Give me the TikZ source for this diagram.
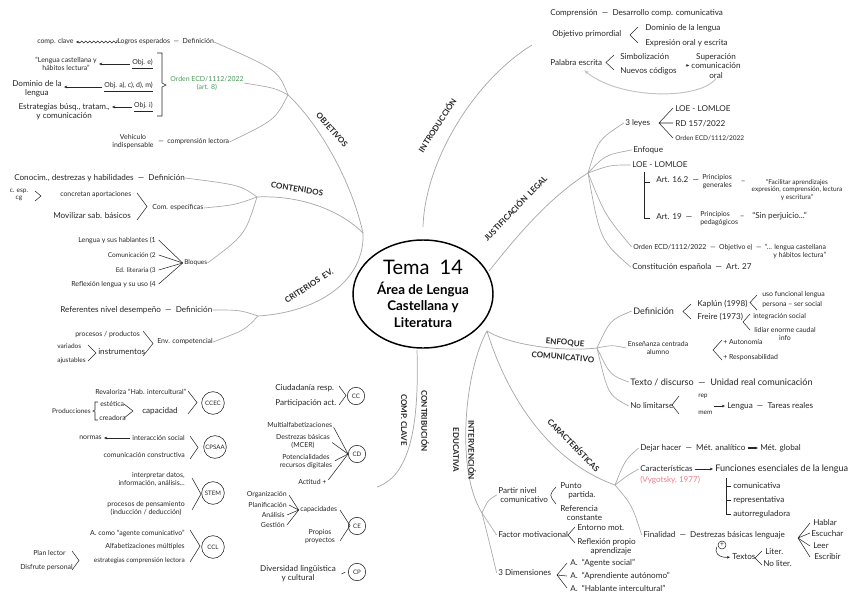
\documentclass[tikz,border=0pt]{standalone}
\usepackage{fontspec}
\setmainfont{Lato}
\usepackage{tikz}
\usetikzlibrary{positioning,arrows.meta,calc,decorations.pathmorphing,shapes.geometric}
\definecolor{ink}{HTML}{262626}
\definecolor{lin}{HTML}{A8A8A8}
\definecolor{grn}{HTML}{4C9A58}
\definecolor{pnk}{HTML}{F07C8A}
\newcommand{\chevR}[4]{\draw[chev] (#1,#2) -- (#1+#4,{(#2+#3)/2}) -- (#1,#3);}
\newcommand{\chevL}[4]{\draw[chev] (#1+#4,#2) -- (#1,{(#2+#3)/2}) -- (#1+#4,#3);}
\tikzset{
  txt/.style={font=\fontsize{6.1}{6.9}\selectfont,text=ink,inner sep=0pt,anchor=west},
  sm/.style={txt,font=\fontsize{5.2}{6}\selectfont},
  wee/.style={txt,font=\fontsize{4.9}{5.6}\selectfont},
  lg/.style={txt,font=\fontsize{6.8}{7.6}\selectfont},
  lbl/.style={font=\fontsize{6}{6.6}\selectfont\bfseries,text=ink,inner sep=0pt,align=center},
  branch/.style={lin,line width=0.55pt},
  twig/.style={lin,line width=0.5pt},
  chev/.style={ink,line width=0.4pt},
  arr/.style={ink,line width=0.4pt,-{Stealth[length=2.4pt,width=2pt]},shorten <=1.5pt,shorten >=1.5pt},
  comp/.style={circle,draw=ink,line width=0.45pt,inner sep=0pt,minimum size=17pt,font=\fontsize{4.6}{5}\selectfont,text=ink},
  compS/.style={comp,minimum size=13pt},
}

\begin{document}
\begin{tikzpicture}[x=0.75pt,y=-0.75pt]
  \useasboundingbox (0,0) rectangle (848,599);
  % centre
  \node[draw=black,line width=1.1pt,ellipse,minimum width=105pt,minimum height=81pt,inner sep=0pt,align=center,
        font=\fontsize{10}{12.6}\selectfont\bfseries,text=black] (tema) at (423,294)
        {{\fontsize{15}{15}\selectfont\mdseries Tema\ \ 14}\\[2pt]Área de Lengua\\Castellana y\\Literatura};
  % hubs
  \coordinate (kL) at (363,233);
  \coordinate (kT) at (423,227);
  \coordinate (kR) at (489,271);
  \coordinate (kB) at (487,331);
  \coordinate (kC) at (417,350);
  \coordinate (jobj) at (288,95);
  \coordinate (jcon) at (257,197);
  \coordinate (jcri) at (258,316);
  \coordinate (kI) at (532,45);
  \coordinate (jjus) at (588,173);
  \coordinate (jenf) at (597,348);
  \coordinate (jcar) at (615,485);
  \coordinate (jint) at (482,513);
  \coordinate (kCe) at (377,487);
  \draw[branch] (kL) .. controls (350,175) and (315,120) .. (jobj);
  \draw[branch] (kL) .. controls (340,210) and (300,195) .. (jcon);
  \draw[branch] (kL) .. controls (365,280) and (320,312) .. (jcri);
  \draw[branch] (kT) .. controls (425,160) and (475,80) .. (kI);
  \draw[branch] (kR) .. controls (510,245) and (545,200) .. (jjus);
  \draw[branch] (kB) .. controls (510,345) and (560,352) .. (jenf);
  \draw[branch] (kB) .. controls (505,390) and (545,460) .. (jcar);
  \draw[branch] (kB) .. controls (465,370) and (455,470) .. (jint);
  \draw[branch] (kC) .. controls (419,420) and (412,475) .. (kCe);
  % branch labels
  \node[lbl,rotate=-49] (lobj) at (332,130) {OBJETIVOS};
  \node[lbl,rotate=-9] (lcon) at (297,189) {CONTENIDOS};
  \node[lbl,rotate=33] (lcri) at (309,286) {CRITERIOS\ \ EV.};
  \node[lbl,rotate=57] (lint) at (437,125) {INTRODUCCIÓN};
  \node[lbl,rotate=46] (ljus) at (515,208) {JUSTIFICACIÓN\ \ LEGAL};
  \node[lbl,rotate=-5] (lenf) at (565,343) {ENFOQUE};
  \node[lbl,rotate=-5] (lenf2) at (563,357) {COMUNICATIVO};
  \node[lbl,rotate=-46] (lcar) at (574,445) {CARACTERÍSTICAS};
  \node[lbl,rotate=-90] (lieu) at (472,450) {INTERVENCIÓN};
  \node[lbl,rotate=-90] (lieu2) at (456,450) {EDUCATIVA};
  \node[lbl,rotate=-90] (lccl) at (425,421) {CONTRIBUCIÓN};
  \node[lbl,rotate=-90] (lccl2) at (404,420) {COMP. CLAVE};

  % objetivos
  \node[sm] (ocl) at (37,42) {comp. clave};
  \node[sm] (olg) at (117,42) {Logros esperados\ \ —\ \ Definición};
  \draw[ink,line width=0.4pt,decorate,decoration={snake,amplitude=0.7pt,segment length=3pt,post length=3pt},
        -{Stealth[length=2.4pt]},shorten >=1.5pt,shorten <=1.5pt] (olg.west) -- (ocl.east);
  \node[sm,anchor=east] (oe) at (153,64) {\underline{Obj. e)}};
  \node[sm,anchor=east,align=center] (olc) at (97,64) {“Lengua castellana y\\hábitos lectura”};
  \draw[arr] (oe.west) -- (olc.east);
  \node[sm,anchor=east] (oa) at (153,87) {\underline{Obj. a), c), d), m)}};
  \node[txt,anchor=east,align=center] (odm) at (62,89) {Dominio de la\\lengua};
  \draw[arr] (oa.west) -- (oa.west -| odm.east);
  \node[sm,anchor=east] (oi) at (153,107) {\underline{Obj. i)}};
  \node[txt,anchor=east,align=center] (oes) at (110,112) {Estrategias búsq., tratam.,\\y comunicación};
  \draw[arr] (oi.west) -- (oi.west -| oes.east);
  \draw[chev] (157,53) -- (162,53) -- (162,83) -- (166,85) -- (162,87) -- (162,116) -- (157,116);
  \node[sm,anchor=center,align=center,text=grn] (ord) at (207,83) {Orden ECD/1112/2022\\(art. 8)};
  \node[sm,anchor=center,align=center] (ove) at (133,142) {Vehículo\\indispensable};
  \node[sm] (ocp) at (158,142) {—\ \ comprensión lectora};
  \draw[twig] (jobj) .. controls (278,70) .. (olg.east);
  \draw[twig] (jobj) .. controls (275,88) .. (ord.east);
  \draw[twig] (jobj) .. controls (275,120) .. (ocp.east);

  % contenidos
  \node[txt] (cdf) at (14,178) {Conocim., destrezas y habilidades\ \ —\ \ Definición};
  \node[wee,anchor=center,align=center] (cesp) at (19,195) {c. esp.\\cg};
  \chevR{35}{191}{201}{6}
  \node[sm] (cap) at (60,195) {concretan aportaciones};
  \node[txt] (cmov) at (53,216) {Movilizar sab. básicos};
  \chevR{137}{193}{220}{10}
  \node[sm] (cce) at (152,208) {Com. específicas};
  \node[sm,anchor=east] (b1) at (156,240) {Lengua y sus hablantes (1};
  \node[wee,anchor=east] (b2) at (156,255) {Comunicación (2};
  \node[wee,anchor=east] (b3) at (156,270) {Ed. literaria (3};
  \node[sm,anchor=east] (b4) at (156,284) {Reflexión lengua y su uso (4};
  \node[wee] (cbl) at (184,263) {Bloques};
  \foreach \blk in {b1,b2,b3,b4} \draw[chev] ([xshift=2pt]\blk.east) -- ([xshift=-1pt]cbl.west);
  \draw[twig] (jcon) .. controls (240,185) .. (cdf.east);
  \draw[twig] (jcon) .. controls (235,205) .. (cce.east);
  \draw[twig] (jcon) .. controls (245,235) .. (cbl.east);

  % criterios
  \node[txt] (rdf) at (60,310) {Referentes nivel desempeño\ \ —\ \ Definición};
  \node[sm,anchor=east] (rpp) at (140,335) {procesos / productos};
  \node[wee] (rva) at (57,346) {variados};
  \node[wee] (raj) at (57,361) {ajustables};
  \chevR{88}{345}{361}{8}
  \node[txt] (rin) at (98,352) {instrumentos};
  \chevR{143}{331}{356}{10}
  \node[sm] (renv) at (157,342) {Env. competencial};
  \draw[twig] (jcri) .. controls (240,310) .. (rdf.east);
  \draw[twig] (jcri) .. controls (245,330) .. (renv.east);

  % competencias clave (izquierda)
  \node[sm] (crev) at (95,392) {Revaloriza “Hab. intercultural”};
  \node[wee,anchor=east] (cprod) at (91,411) {Producciones};
  \draw[chev] (98,402) -- (95,402) -- (95,410) -- (93,411) -- (95,412) -- (95,420) -- (98,420);
  \node[sm] (cest) at (100,404) {estética};
  \node[sm] (ccre) at (99,418) {creadora};
  \chevR{124}{404}{418}{9}
  \node[txt] (ccap) at (142,411) {capacidad};
  \chevR{188}{391}{414}{9}
  \node[comp] (ccec) at (213,403) {CCEC};
  \node[sm,anchor=east] (cint) at (185,438) {interacción social};
  \node[sm,anchor=east] (cnor) at (102,438) {normas};
  \draw[arr] (cint.west) -- (cnor.east);
  \node[sm,anchor=east] (ccon) at (185,455) {comunicación constructiva};
  \chevR{190}{436}{459}{8}
  \node[comp] (cpsaa) at (215,447) {CPSAA};
  \node[sm,anchor=east,align=right] (sint) at (185,479) {interpretar datos,\\información, análisis...};
  \node[sm,anchor=east,align=center] (spro) at (185,508) {procesos de pensamiento\\(inducción / deducción)};
  \chevR{192}{478}{510}{9}
  \node[comp] (stem) at (213,493) {STEM};
  \node[sm,anchor=east] (lag) at (185,533) {A. como “agente comunicativo”};
  \node[sm,anchor=east] (lalf) at (185,547) {Alfabetizaciones múltiples};
  \node[wee,anchor=east] (lest) at (185,561) {estrategias comprensión lectora};
  \node[sm] (lpl) at (33,553) {Plan lector};
  \node[sm] (ldis) at (20,568) {Disfrute personal};
  \chevR{72}{551}{570}{7}
  \chevR{190}{530}{562}{10}
  \node[comp] (ccl) at (213,547) {CCL};

  % contribucion comp. clave
  \node[txt] (cc1) at (275,388) {Ciudadanía resp.};
  \node[txt] (cc2) at (275,403) {Participación act.};
  \chevR{339}{386}{405}{7}
  \node[compS] (ccc) at (356,396) {CC};
  \node[sm] (cd1) at (267,425) {Multialfabetizaciones};
  \node[sm,anchor=center,align=center] (cd2) at (303,441) {Destrezas básicas\\(MCER)};
  \node[sm,anchor=center,align=center] (cd3) at (306,462) {Potencialidades\\recursos digitales};
  \node[sm] (cd4) at (298,482) {Actitud +};
  \node[compS] (ccd) at (357,454) {CD};
  \foreach \cdx in {cd1,cd2,cd3,cd4} \draw[chev,shorten <=2pt] (\cdx.east) -- (ccd.west);
  \node[sm,anchor=east] (ce1) at (287,495) {Organización};
  \node[sm,anchor=east] (ce2) at (287,505) {Planificación};
  \node[sm,anchor=east] (ce3) at (285,515) {Análisis};
  \node[sm,anchor=east] (ce4) at (285,525) {Gestión};
  \node[sm] (ccp2) at (300,510) {capacidades};
  \foreach \cex in {ce1,ce2,ce3,ce4} \draw[chev] ([xshift=1.5pt]\cex.east) -- ([xshift=-1pt]ccp2.west);
  \node[sm,anchor=center,align=center] (cpp) at (320,537) {Propios\\proyectos};
  \chevR{340}{510}{541}{10}
  \node[compS] (cce2) at (357,526) {CE};
  \node[txt,anchor=center,align=center] (cpd) at (298,574) {Diversidad lingüística\\y cultural};
  \node[compS] (ccp) at (357,572) {CP};
  \draw[chev] ([xshift=4pt]cpd.east) -- ([xshift=-2pt]ccp.west);

  % intervencion educativa
  \node[txt,align=left] (ipn) at (498,495) {Partir nivel\\\ comunicativo};
  \draw[chev] (556,487) .. controls (549,495) .. (556,504);
  \node[txt,align=left] (ipp) at (560,491) {Punto\\\hspace{6pt}partida.};
  \node[txt,align=left] (irc) at (560,513) {Referencia\\\hspace{5pt}constante};
  \node[txt] (ifm) at (498,535) {Factor motivacional};
  \chevL{568}{527}{543}{7}
  \node[txt] (iem) at (577,528) {Entorno mot.};
  \node[txt,align=left] (irp) at (577,547) {Reflexión propio\\\hspace{10pt}aprendizaje};
  \node[txt] (idim) at (498,573) {3 Dimensiones};
  \draw[chev] (567,563) -- (557,575) -- (567,588) (557,575) -- (567,576);
  \node[txt] (ia1) at (570,563) {A.\ \ “Agente social”};
  \node[txt] (ia2) at (570,576) {A.\ \ “Aprendiente autónomo”};
  \node[txt] (ia3) at (570,588) {A.\ \ “Hablante intercultural”};
  \draw[twig] (jint) .. controls (488,500) .. ([xshift=-1pt]ipn.west);
  \draw[twig] (jint) .. controls (488,522) .. ([xshift=-1pt]ifm.west);
  \draw[twig] (jint) .. controls (490,545) .. ([xshift=-1pt]idim.west);

  % caracteristicas
  \node[txt] (cdej) at (640,448) {Dejar hacer\ \ —\ \ Mét. analítico};
  \node[txt] (cglo) at (760,448) {Mét. global};
  \draw[arr,line width=0.8pt] (cdej.east) -- (cglo.west);
  \node[txt] (ccar) at (640,469) {Características};
  \node[lg] (cfun) at (715,469) {Funciones esenciales de la lengua};
  \draw[arr] (ccar.east) -- (cfun.west);
  \node[txt,text=pnk] (cvyg) at (640,480) {(Vygotsky, 1977)};
  \draw[chev] (726,478) -- (726,514) -- (731,514) (726,486) -- (731,486) (726,500) -- (731,500);
  \node[txt] (cf1) at (733,486) {comunicativa};
  \node[txt] (cf2) at (733,500) {representativa};
  \node[txt] (cf3) at (733,514) {autorreguladora};
  \node[txt] (cfin) at (643,535) {Finalidad\ \ —\ \ Destrezas básicas lenguaje};
  \draw[chev] (810,523) -- (798,538) -- (810,557) (798,538) -- (810,533) (798,538) -- (810,546);
  \node[txt] (ch1) at (813,523) {Hablar};
  \node[txt] (ch2) at (811,534) {Escuchar};
  \node[txt] (ch3) at (813,546) {Leer};
  \node[txt] (ch4) at (814,557) {Escribir};
  \node[circle,draw=ink,line width=0.4pt,inner sep=0pt,minimum size=6pt,font=\fontsize{5}{5}\selectfont,text=ink] (cplus) at (722,545) {+};
  \node[txt] (ctex) at (732,557) {Textos};
  \draw[arr] (cplus.west) .. controls (714,552) and (718,558) .. (ctex.west);
  \chevL{755}{551}{565}{7}
  \node[txt] (cli) at (765,552) {Liter.};
  \node[txt] (cnl) at (763,564) {No liter.};
  \draw[twig] (jcar) .. controls (625,460) .. ([xshift=-1pt]cdej.west);
  \draw[twig] (jcar) .. controls (628,475) .. ([xshift=-1pt]ccar.west);
  \draw[twig] (jcar) .. controls (632,505) .. ([xshift=-1pt]cfin.west);

  % enfoque comunicativo
  \node[lg] (edf) at (633,311) {Definición};
  \chevL{683}{304}{319}{8}
  \node[txt] (ekap) at (697,304) {Kaplún (1998)};
  \chevL{750}{295}{310}{7}
  \node[sm] (ek1) at (762,295) {uso funcional lengua};
  \node[sm] (ek2) at (762,305) {persona – ser social};
  \node[txt] (efre) at (697,317) {Freire (1973)};
  \chevL{743}{314}{330}{7}
  \node[sm] (ef1) at (753,317) {integración social};
  \node[sm,anchor=center,align=center] (ef2) at (785,334) {lidiar enorme caudal\\info};
  \node[sm,anchor=center,align=center] (eens) at (658,348) {Enseñanza centrada\\alumno};
  \chevL{713}{340}{360}{9}
  \node[sm] (ea1) at (723,342) {+ Autonomía};
  \node[sm] (ea2) at (723,358) {+ Responsabilidad};
  \node[lg] (etex) at (630,382) {Texto / discurso\ \ —\ \ Unidad real comunicación};
  \node[txt] (enol) at (630,406) {No limitarse};
  \chevL{672}{396}{414}{7}
  \node[wee] (erep) at (698,396) {rep};
  \node[wee] (emem) at (698,413) {mem};
  \coordinate (erm) at (712,406);
  \node[txt] (eten) at (727,406) {Lengua\ \ —\ \ Tareas reales};
  \draw[arr] (erm) -- (eten.west);
  \draw[twig] (jenf) .. controls (610,320) .. ([xshift=-1pt]edf.west);
  \draw[twig] (jenf) .. controls (612,345) .. ([xshift=-1pt]eens.west);
  \draw[twig] (jenf) .. controls (610,375) .. ([xshift=-1pt]etex.west);
  \draw[twig] (jenf) .. controls (608,395) .. ([xshift=-1pt]enol.west);

  % justificacion legal
  \node[txt] (j3l) at (625,123) {3 leyes};
  \draw[chev] (673,108) -- (659,123) -- (673,138) (659,123) -- (673,123);
  \node[txt] (jl1) at (675,109) {LOE - LOMLOE};
  \node[txt] (jl2) at (675,124) {RD 157/2022};
  \node[wee] (jl3) at (675,138) {Orden ECD/1112/2022};
  \node[txt] (jenq) at (633,150) {Enfoque};
  \node[txt] (jloe) at (632,165) {LOE - LOMLOE};
  \draw[chev] (644,172) -- (644,218) -- (650,218) (644,182) -- (650,182);
  \node[txt] (ja16) at (656,180) {Art. 16.2\ \ —};
  \node[sm,align=right] (jpg) at (702,182) {Principios\\generales};
  \node[txt] (jd1) at (741,181) {\_};
  \node[wee,anchor=center,align=center] (jfac) at (797,190) {“Facilitar aprendizajes\\expresión, comprensión, lectura\\y escritura”};
  \node[txt] (ja19) at (656,217) {Art. 19\ \ —};
  \node[sm,align=left] (jpp) at (700,219) {Principios\\pedagógicos};
  \node[txt] (jd2) at (740,216) {\_};
  \node[txt] (jsin) at (752,216) {“Sin perjuicio...”};
  \node[sm] (jord) at (633,247) {Orden ECD/1112/2022\ \ —\ \ Objetivo e)\ \ —\ \ “... lengua castellana};
  \node[sm,anchor=north east] (jord2) at ([yshift=-1pt]jord.south east) {y hábitos lectura”};
  \node[txt] (jcte) at (632,267) {Constitución española\ \ —\ \ Art. 27};
  \draw[twig] (jjus) .. controls (598,140) .. ([xshift=-1pt]j3l.west);
  \draw[twig] (jjus) .. controls (605,155) .. ([xshift=-1pt]jenq.west);
  \draw[twig] (jjus) .. controls (610,165) .. ([xshift=-1pt]jloe.west);
  \draw[twig] (jjus) .. controls (605,215) .. ([xshift=-1pt]jord.west);
  \draw[twig] (jjus) .. controls (600,240) .. ([xshift=-1pt]jcte.west);

  % introduccion
  \node[txt] (icom) at (550,13) {Comprensión\ \ —\ \ Desarrollo comp. comunicativa};
  \node[txt] (iobj) at (552,34) {Objetivo primordial};
  \chevL{630}{27}{43}{8}
  \node[txt] (idom) at (645,28) {Dominio de la lengua};
  \node[txt] (iexp) at (645,43) {Expresión oral y escrita};
  \node[txt] (ipal) at (550,63) {Palabra escrita};
  \chevL{606}{55}{70}{8}
  \node[txt] (isim) at (620,57) {Simbolización};
  \node[txt] (inue) at (620,71) {Nuevos códigos};
  \node[txt,anchor=center,align=center] (isup) at (716,66) {Superación\\comunicación\\oral};
  \coordinate (iar) at (684,65);
  \draw[arr] (iar) -- (isup.west);
  \draw[lin!70,line width=0.7pt,-{Stealth[length=3.5pt]}] (isup.south) .. controls (700,100) and (620,100) .. ([shift={(8,4)}]ipal.south);
\end{tikzpicture}
\end{document}
